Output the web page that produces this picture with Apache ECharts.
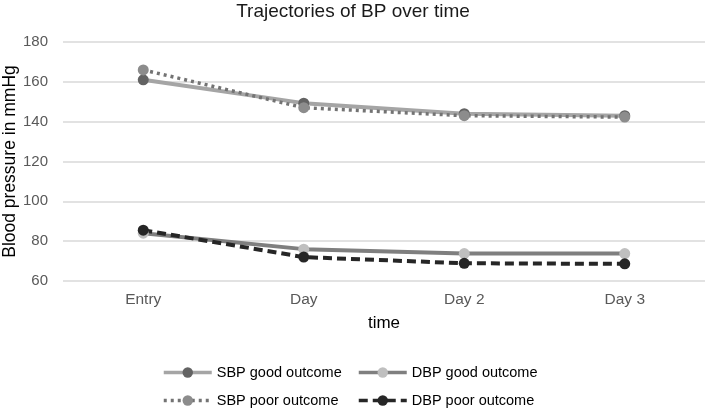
<!DOCTYPE html>
<html>
<head>
<meta charset="utf-8">
<script src="https://cdn.jsdelivr.net/npm/echarts@6/dist/echarts.min.js"></script>
<style>
  html, body { margin: 0; padding: 0; background: #fff; }
  #chart { width: 706px; height: 410px; }
</style>
</head>
<body>
<div id="chart"></div>
<script>
// 时间点
var timePoints = ['Entry', 'Day', 'Day 2', 'Day 3'];

// 收缩压 / 舒张压
var sbpGood = [161, 149.3, 144, 143];
var dbpGood = [84, 76, 73.8, 73.8];
var sbpPoor = [166, 147, 143, 142.3];
var dbpPoor = [85.5, 72, 68.9, 68.6];

var yTicks = [60, 80, 100, 120, 140, 160, 180];

var myChart = echarts.init(document.getElementById('chart'));

var legendText = { fontFamily: 'Liberation Sans', fontSize: 14.5, color: '#000' };

var option = {
  animation: false,
  title: {
    text: 'Trajectories of BP over time',
    left: 'center',
    top: 2,
    padding: 0,
    textStyle: {
      fontFamily: 'Liberation Sans',
      fontSize: 19,
      fontWeight: 'normal',
      color: '#1a1a1a'
    }
  },
  legend: [
    {
      orient: 'vertical',
      left: 162,
      top: 365,
      height: 60,
      padding: 0,
      itemWidth: 48,
      itemHeight: 13,
      itemGap: 13,
      lineStyle: { width: 3.5 },
      data: ['SBP good outcome', 'SBP poor outcome'],
      textStyle: legendText
    },
    {
      orient: 'vertical',
      left: 357,
      top: 365,
      height: 60,
      padding: 0,
      itemWidth: 48,
      itemHeight: 13,
      itemGap: 13,
      lineStyle: { width: 3.5 },
      data: ['DBP good outcome', 'DBP poor outcome'],
      textStyle: legendText
    }
  ],
  grid: {
    left: 63,
    right: 1,
    top: 42,
    bottom: 129,
    outerBoundsMode: 'none'
  },
  xAxis: {
    type: 'category',
    data: timePoints,
    boundaryGap: true,
    name: 'time',
    nameLocation: 'middle',
    nameGap: 34,
    nameMoveOverlap: false,
    nameTextStyle: { fontFamily: 'Liberation Sans', fontSize: 17, color: '#000' },
    axisLine: { show: false },
    axisTick: { show: false },
    axisLabel: {
      margin: 11,
      fontFamily: 'Liberation Sans',
      fontSize: 15.5,
      color: '#595959'
    }
  },
  yAxis: {
    type: 'value',
    min: yTicks[0],
    max: yTicks[yTicks.length - 1],
    interval: 20,
    name: 'Blood pressure in mmHg',
    nameLocation: 'middle',
    nameGap: 44,
    nameMoveOverlap: false,
    nameTextStyle: { fontFamily: 'Liberation Sans', fontSize: 17.5, color: '#000' },
    axisLine: { show: false },
    axisTick: { show: false },
    axisLabel: {
      margin: 15,
      fontFamily: 'Liberation Sans',
      fontSize: 15,
      color: '#595959'
    },
    splitLine: {
      lineStyle: { color: '#d9d9d9', width: 1.5 }
    }
  },
  series: [
    {
      name: 'SBP good outcome',
      type: 'line',
      data: sbpGood,
      symbol: 'circle',
      symbolSize: 11,
      lineStyle: { color: '#a5a5a5', width: 4 },
      itemStyle: { color: '#636363' }
    },
    {
      name: 'DBP good outcome',
      type: 'line',
      data: dbpGood,
      symbol: 'circle',
      symbolSize: 11,
      lineStyle: { color: '#7f7f7f', width: 4 },
      itemStyle: { color: '#bfbfbf' }
    },
    {
      name: 'SBP poor outcome',
      type: 'line',
      data: sbpPoor,
      symbol: 'circle',
      symbolSize: 11,
      lineStyle: { color: '#737373', width: 3.5, type: [3, 4] },
      itemStyle: { color: '#8c8c8c' }
    },
    {
      name: 'DBP poor outcome',
      type: 'line',
      data: dbpPoor,
      symbol: 'circle',
      symbolSize: 11,
      lineStyle: { color: '#262626', width: 4, type: [9, 5] },
      itemStyle: { color: '#262626' }
    }
  ]
};

myChart.setOption(option);

window.addEventListener('resize', function () {
  myChart.resize();
});
</script>
</body>
</html>
